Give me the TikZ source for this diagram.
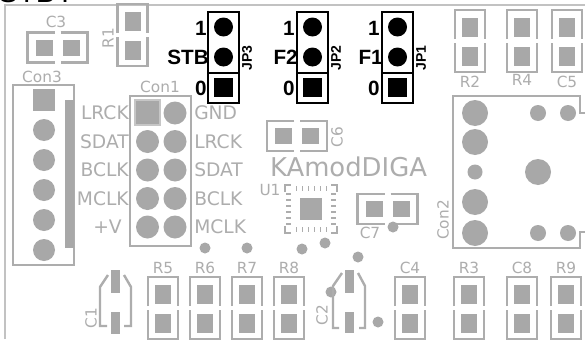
\documentclass[tikz,border=0pt]{standalone}
\usepackage{fontspec}
\newfontfamily\silkfont{DejaVu Sans}
\newfontfamily\jpfont{Liberation Sans}
\definecolor{sg}{gray}{0.68}
\definecolor{pg}{gray}{0.66}
\definecolor{edge}{gray}{0.76}
\tikzset{
  silk/.style={draw=sg,line width=1.8pt},
  thinsilk/.style={draw=sg,line width=1.1pt},
  pad/.style={fill=pg},
  blk/.style={draw=black,line width=1.9pt},
  lbl/.style={text=sg,inner sep=0pt,font=\silkfont\fontsize{11.5}{12}\selectfont},
  sig/.style={text=sg,inner sep=0pt,font=\silkfont\fontsize{14}{15}\selectfont},
  jpnum/.style={text=black,inner sep=0pt,font=\jpfont\bfseries\fontsize{15.5}{16}\selectfont},
  jpname/.style={text=black,inner sep=0pt,rotate=90,font=\jpfont\bfseries\fontsize{10.5}{11}\selectfont},
}
\newcommand\mkvfoot[2]{%
  \draw[silk] (#1-15,#2+29) -- (#1-15,#2) -- (#1+15,#2) -- (#1+15,#2+29);
  \draw[silk] (#1-15,#2+33) -- (#1-15,#2+62) -- (#1+15,#2+62) -- (#1+15,#2+33);
  \fill[pad] (#1-8,#2+8) rectangle (#1+8,#2+27);
  \fill[pad] (#1-8,#2+37) rectangle (#1+8,#2+56);}
\newcommand\mkhfoot[2]{%
  \draw[silk] (#1-3,#2-15) -- (#1-30,#2-15) -- (#1-30,#2+15) -- (#1-3,#2+15);
  \draw[silk] (#1+3,#2-15) -- (#1+30,#2-15) -- (#1+30,#2+15) -- (#1+3,#2+15);
  \fill[pad] (#1-22,#2-8) rectangle (#1-5,#2+8);
  \fill[pad] (#1+5,#2-8) rectangle (#1+22,#2+8);}
\newcommand\mkjp[1]{%
  \draw[blk] (#1,12) rectangle (#1+31,103);
  \draw[blk] (#1,73) -- (#1+31,73);
  \fill[black] (#1+15.5,27) circle (9.5);
  \fill[black] (#1+15.5,57) circle (9.5);
  \fill[black] (#1+6,78) rectangle (#1+25,97);}
\begin{document}
\begin{tikzpicture}[x=0.75pt,y=-0.75pt]
\useasboundingbox (0,0) rectangle (585,339);
\clip (0,0) rectangle (585,339);
\fill[white] (0,0) rectangle (585,339);
% board edge
\draw[edge,line width=1.8pt] (5,339) -- (5,5) -- (585,5);
\node[anchor=base west,inner sep=0pt,font=\jpfont\fontsize{22}{22}\selectfont] (stby) at (-2,2.5) {STBY};

% C3
\mkhfoot{57.5}{47.5}
\node[lbl] (c3) at (56,22) {C3};
% R1
\mkvfoot{132.5}{4}
\node[lbl,rotate=90] (r1) at (108,38) {R1};

% Jumpers
\mkjp{208}
\mkjp{297}
\mkjp{382}
\node[jpnum,anchor=east] (j3a) at (207,28) {1};
\node[jpnum,anchor=east] (j3b) at (209,57) {STB};
\node[jpnum,anchor=east] (j3c) at (207,88) {0};
\node[jpname] (jp3) at (247,58) {JP3};
\node[jpnum,anchor=east] (j2a) at (295,28) {1};
\node[jpnum,anchor=east] (j2b) at (298,57) {F2};
\node[jpnum,anchor=east] (j2c) at (295,88) {0};
\node[jpname] (jp2) at (336,58) {JP2};
\node[jpnum,anchor=east] (j1a) at (380,28) {1};
\node[jpnum,anchor=east] (j1b) at (383,57) {F1};
\node[jpnum,anchor=east] (j1c) at (380,88) {0};
\node[jpname] (jp1) at (421,58) {JP1};

% top right parts
\mkvfoot{470}{10}
\mkvfoot{522}{10}
\mkvfoot{567}{10}
\node[lbl] (r2) at (470,82) {R2};
\node[lbl] (r4) at (522,80) {R4};
\node[lbl] (c5) at (567,82) {C5};

% Con3
\draw[silk] (13,85) rectangle (74,265);
\fill[pad] (65,100) rectangle (74,248);
\fill[pad] (33,89) rectangle (55,111);
\foreach \yy in {130,160,190,220,250} \fill[pad] (44,\yy) circle (11);
\node[lbl] (con3) at (42,77) {Con3};

% Con1
\draw[silk] (130,96) rectangle (191,246);
\filldraw[fill=pg,draw=sg!70,line width=0.8pt] (135,100) rectangle (160,125);
\foreach \yy in {141.5,170,198.5,227} \fill[pad] (147.5,\yy) circle (11.5);
\foreach \yy in {113,141.5,170,198.5,227} \fill[pad] (175,\yy) circle (11.5);
\node[lbl] (con1) at (160,87) {Con1};
\node[sig,anchor=east] (l1) at (129,113) {LRCK};
\node[sig,anchor=east] (l2) at (129,141.5) {SDAT};
\node[sig,anchor=east] (l3) at (129,170) {BCLK};
\node[sig,anchor=east] (l4) at (129,198.5) {MCLK};
\node[sig,anchor=east] (l5) at (122,227) {+V};
\node[sig,anchor=west] (r1s) at (194,113) {GND};
\node[sig,anchor=west] (r2s) at (194,141.5) {LRCK};
\node[sig,anchor=west] (r3s) at (194,170) {SDAT};
\node[sig,anchor=west] (r4s) at (194,198.5) {BCLK};
\node[sig,anchor=west] (r5s) at (194,227) {MCLK};

% C6, title
\mkhfoot{297}{136}
\node[lbl,rotate=90] (c6) at (337,137) {C6};
\node[text=sg,inner sep=0pt,font=\silkfont\fontsize{19.4}{20}\selectfont] (title) at (348.5,167) {KAmodDIGA};

% U1
\node[lbl] (u1) at (270,190) {U1};
\draw[thinsilk] (285,192) -- (285,185) -- (291,185);
\draw[thinsilk] (331,185) -- (337,185) -- (337,192);
\draw[thinsilk] (285,226) -- (285,233) -- (291,233);
\draw[thinsilk] (331,233) -- (337,233) -- (337,226);
\foreach \k in {0,...,5} {
  \draw[thinsilk] (296.5+6*\k,186) -- (296.5+6*\k,191);
  \draw[thinsilk] (296.5+6*\k,227) -- (296.5+6*\k,232);
  \draw[thinsilk] (286,194+6*\k) -- (291,194+6*\k);
  \draw[thinsilk] (331,194+6*\k) -- (336,194+6*\k);
}
\fill[pad] (300,198) rectangle (322,220);

% C7
\mkhfoot{387.5}{209}
\node[lbl] (c7) at (370,233) {C7};

% Con2
\draw[silk] (586,113) -- (580,113) -- (580,96) -- (453,96) -- (453,248) -- (580,248) -- (580,232) -- (586,232);
\fill[pad] (475,113) circle (13);
\fill[pad] (475,142) circle (13);
\fill[pad] (475,172) circle (7.5);
\fill[pad] (475,202) circle (13);
\fill[pad] (475,233) circle (13);
\fill[pad] (538,172) circle (13);
\fill[pad] (538,113) circle (8);
\fill[pad] (568,113) circle (8);
\fill[pad] (538,233) circle (8);
\fill[pad] (568,233) circle (8);
\node[lbl,rotate=90] (con2) at (443,220) {Con2};

% vias
\foreach \p in {(205,248),(247,248),(302,249),(325,243),(358,257),(393,227),(331,292),(378,322)}
  \fill[pad] \p circle (5.5);

% bottom parts
\mkvfoot{163}{277}
\mkvfoot{205}{277}
\mkvfoot{247}{277}
\mkvfoot{289}{277}
\mkvfoot{410}{277}
\mkvfoot{469}{277}
\mkvfoot{522}{277}
\mkvfoot{566}{277}
\node[lbl] (r5) at (163,268) {R5};
\node[lbl] (r6) at (205,268) {R6};
\node[lbl] (r7) at (247,268) {R7};
\node[lbl] (r8) at (289,268) {R8};
\node[lbl] (c4) at (410,268) {C4};
\node[lbl] (r3) at (469,268) {R3};
\node[lbl] (c8) at (522,268) {C8};
\node[lbl] (r9) at (566,268) {R9};

% C1
\draw[silk] (108,275) -- (100,287) -- (100,326) -- (107,326);
\draw[silk] (124,275) -- (131,287) -- (131,326) -- (124,326);
\fill[pad] (111,270) rectangle (120,293);
\fill[pad] (111,312) rectangle (120,334);
\node[lbl,rotate=90] (c1) at (91,318) {C1};
% C2
\draw[silk] (342,273) -- (333,286) -- (333,328) -- (339,328);
\draw[silk] (358,273) -- (365,286) -- (365,328) -- (359,328);
\fill[pad] (345,270) rectangle (354,293);
\fill[pad] (345,312) rectangle (354,333);
\node[lbl,rotate=90] (c2) at (322,315) {C2};
\end{tikzpicture}
\end{document}
